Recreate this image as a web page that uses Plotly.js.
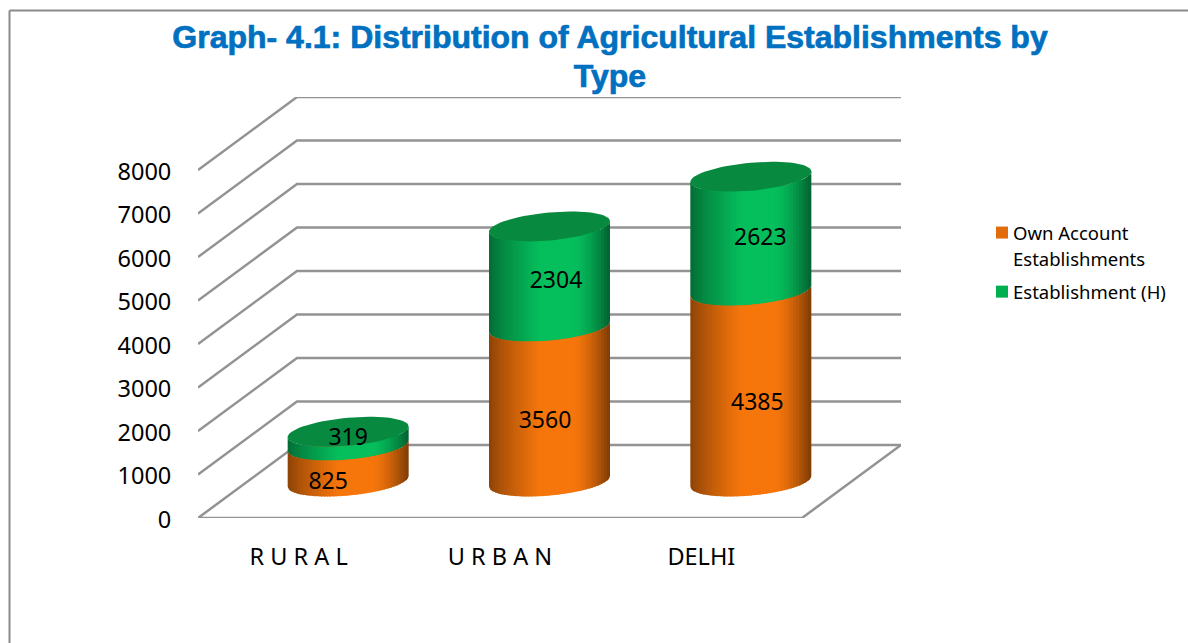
<!DOCTYPE html>
<html>
<head>
<meta charset="utf-8">
<script src="https://cdn.plot.ly/plotly-3.0.1.min.js"></script>
<style>html,body{margin:0;padding:0;background:#fff}</style>
</head>
<body>
<div id="chart" style="width:1188px;height:643px"></div>
<script>
const categories = ["R U R A L", "U R B A N", "DELHI"];
const ownAccount = [825, 3560, 4385];
const establishmentH = [319, 2304, 2623];
const yTicks = [0, 1000, 2000, 3000, 4000, 5000, 6000, 7000, 8000];
const seriesNames = ["Own Account<br>Establishments", "Establishment (H)"];
const legendColors = ["#E36C0A", "#00B050"];

// plot frame in pixels
const L = 198, R = 901, T = 97, B = 518, W = 1188, H = 643;
const pxPerCat = 604 / 3, pxPerVal = 0.0435;
const depthX = 99 / pxPerCat, depthY = 73 / pxPerVal;
const baseVal = depthY / 2, cylShift = depthX / 2;
const halfW = 60.5 / pxPerCat, ellA = 14 / pxPerVal, ellS = 5.3 / pxPerVal;
const xMin = -0.5, xMax = xMin + (R - L) / pxPerCat, yMax = (B - T) / pxPerVal;
const gridColor = "#939393", FONT = "'Noto Sans', sans-serif";

const traces = [];

// floor and walls
const gx = [], gy = [];
yTicks.forEach(v => {
  gx.push(xMin, xMin + depthX, xMax, null);
  gy.push(v, v + depthY, v + depthY, null);
});
gx.push(xMin, xMin + 3, xMin + 3 + depthX, null);
gy.push(0, 0, depthY, null);
traces.push({type: "scatter", mode: "lines", x: gx, y: gy, cliponaxis: false,
  line: {color: gridColor, width: 2.5}, showlegend: false, hoverinfo: "skip"});

// real stacked bars (carry the legend), wrapped by the cylinders below
const centers = categories.map((_, i) => i + cylShift);
traces.push({type: "bar", name: seriesNames[0], x: centers, y: ownAccount,
  base: ownAccount.map(() => baseVal), width: 0.5,
  marker: {color: legendColors[0]}, hoverinfo: "skip"});
traces.push({type: "bar", name: seriesNames[1], x: centers, y: establishmentH,
  base: ownAccount.map(v => baseVal + v), width: 0.5,
  marker: {color: legendColors[1]}, hoverinfo: "skip"});

function shade(t) { // brightness across the cylinder
  if (t < 0.42) return 0.56 + 0.44 * Math.pow(t / 0.42, 0.8);
  if (t < 0.7) return 1;
  return 1 - 0.5 * Math.pow((t - 0.7) / 0.3, 1.5);
}
function mix(rgb, f) { return "rgb(" + rgb.map(c => Math.round(c * f)).join(",") + ")"; }
const ORANGE = [246, 118, 12], GREEN = [5, 190, 92];
const N = 40;
function strips(cx, lo, hi, rgb) {
  for (let s = 0; s < N; s++) {
    const u0 = -1 + 2 * s / N, u1 = Math.min(1, -1 + 2 * (s + 1.4) / N);
    const xs = [], ys = [];
    const us = [];
    for (let j = 0; j <= 3; j++) us.push(u0 + (u1 - u0) * j / 3);
    us.forEach(u => { xs.push(cx + u * halfW); ys.push(lo - ellA * Math.sqrt(Math.max(0, 1 - u * u)) + ellS * u); });
    us.slice().reverse().forEach(u => { xs.push(cx + u * halfW); ys.push(hi - ellA * Math.sqrt(Math.max(0, 1 - u * u)) + ellS * u); });
    xs.push(xs[0]); ys.push(ys[0]);
    const c = mix(rgb, shade((s + 0.5) / N));
    traces.push({type: "scatter", mode: "lines", x: xs, y: ys, fill: "toself", fillcolor: c,
      line: {color: c, width: 0}, showlegend: false, hoverinfo: "skip"});
  }
}
function topEllipse(cx, lvl) {
  const xs = [], ys = [];
  for (let d = 0; d <= 72; d++) {
    const a = d / 72 * 2 * Math.PI;
    xs.push(cx + halfW * Math.cos(a));
    ys.push(lvl + ellA * Math.sin(a) + ellS * Math.cos(a));
  }
  traces.push({type: "scatter", mode: "lines", x: xs, y: ys, fill: "toself", fillcolor: "#07893f",
    line: {color: "#07893f", width: 0}, showlegend: false, hoverinfo: "skip"});
}
categories.forEach((_, i) => {
  const cx = centers[i];
  const b1 = baseVal + ownAccount[i], b2 = b1 + establishmentH[i];
  strips(cx, b1, b2, GREEN);
  strips(cx, baseVal, b1, ORANGE);
  topEllipse(cx, b2);
});

// value labels, placed from the segment middles with the reference's small offsets
const nudgeOwn = [[-20, -20], [-4.5, -18], [6.5, -18]];
const nudgeEst = [[0, -1], [6.5, -6], [9.5, -6]];
const lx = [], ly = [], lt = [];
categories.forEach((_, i) => {
  lx.push(centers[i] + nudgeOwn[i][0] / pxPerCat);
  ly.push(baseVal + ownAccount[i] / 2 + nudgeOwn[i][1] / pxPerVal);
  lt.push(String(ownAccount[i]));
  lx.push(centers[i] + nudgeEst[i][0] / pxPerCat);
  ly.push(baseVal + ownAccount[i] + establishmentH[i] / 2 + nudgeEst[i][1] / pxPerVal);
  lt.push(String(establishmentH[i]));
});
traces.push({type: "scatter", mode: "text", x: lx, y: ly, text: lt, textposition: "middle center",
  textfont: {family: FONT, size: 23, color: "#000"}, showlegend: false, hoverinfo: "skip"});

const px = x => (x - L) / (R - L);
const py = y => (B - y) / (B - T);
const layout = {
  width: W, height: H, autosize: false,
  paper_bgcolor: "#fff", plot_bgcolor: "rgba(0,0,0,0)",
  margin: {l: L, r: W - R, t: T, b: H - B, pad: 0},
  barmode: "overlay", bargap: 0,
  hovermode: false,
  title: {text: "Graph- 4.1: Distribution of Agricultural Establishments by<br>Type",
    font: {family: "'Liberation Sans', Arial, sans-serif", size: 32, color: "#0070C0", weight: 700},
    x: 610 / W, xanchor: "center", y: 1 - 48 / H, yanchor: "top"},
  xaxis: {range: [xMin, xMax], tickmode: "array", tickvals: [0, 1, 2], ticktext: categories,
    showgrid: false, zeroline: false, showline: false, ticks: "outside", ticklen: 18,
    tickcolor: "rgba(0,0,0,0)", tickfont: {family: FONT, size: 23.5, color: "#000"}},
  yaxis: {range: [0, yMax], tickmode: "array", tickvals: yTicks, ticktext: yTicks.map(String),
    showgrid: false, zeroline: false, showline: false, ticks: "outside", ticklen: 21,
    tickcolor: "rgba(0,0,0,0)", tickfont: {family: FONT, size: 23.5, color: "#000"}},
  legend: {x: px(973), xanchor: "left", y: py(214), yanchor: "top", bgcolor: "rgba(0,0,0,0)",
    font: {family: FONT, size: 18.5, color: "#000"}, tracegroupgap: 4, itemwidth: 30},
  shapes: [
    {type: "line", xref: "paper", yref: "paper", x0: px(9.5), x1: px(1200), y0: py(10.5), y1: py(10.5),
      line: {color: "#8a8a8a", width: 2}},
    {type: "line", xref: "paper", yref: "paper", x0: px(9.5), x1: px(9.5), y0: py(10.5), y1: py(660),
      line: {color: "#8a8a8a", width: 2}}
  ]
};
Plotly.newPlot("chart", traces, layout, {displayModeBar: false, staticPlot: true}).then(gd => {
  // tighten the title's leading and thicken its strokes
  const tl = gd.querySelectorAll(".gtitle tspan.line");
  if (tl[1]) tl[1].setAttribute("dy", "1.22em");
  const tt = gd.querySelector(".gtitle");
  if (tt) { tt.style.stroke = "#0070C0"; tt.style.strokeWidth = "0.7px"; }
  // legend: swatch sits right next to the first text line, wider leading
  const items = gd.querySelectorAll(".legend .traces");
  items.forEach((it, k) => {
    const sym = it.querySelector(".legendsymbols");
    if (sym) sym.setAttribute("transform", "translate(9," + (k === 0 ? -12 : 0) + ")");
    const lines = it.querySelectorAll("tspan.line");
    if (lines[1]) lines[1].setAttribute("dy", "1.42em");
  });
  if (items[1]) {
    const m = /translate\(([-\d.]+),\s*([-\d.]+)\)/.exec(items[1].getAttribute("transform"));
    if (m) items[1].setAttribute("transform", "translate(" + m[1] + "," + (parseFloat(m[2]) + 8) + ")");
  }
  // y tick labels sit slightly lower in the reference
  gd.querySelectorAll(".ytick text").forEach(t => {
    t.setAttribute("transform", (t.getAttribute("transform") || "") + " translate(0,1.5)");
  });
});
</script>
</body>
</html>
